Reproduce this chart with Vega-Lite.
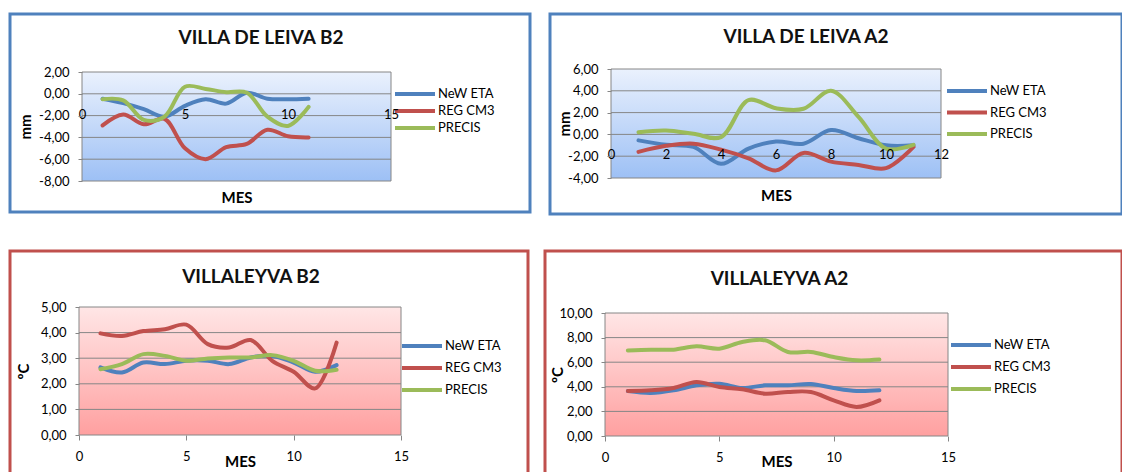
{
  "$schema": "https://vega.github.io/schema/vega-lite/v6.json",
  "padding": {"left": 8, "top": 12, "right": 0, "bottom": 0},
  "background": "white",
  "config": {
    "font": "Lato",
    "axis": {"labelFont": "Lato", "labelFontSize": 13, "labelColor": "#000", "titleFont": "Lato", "titleFontSize": 15, "titleFontWeight": "bold", "titleColor": "#000", "labelFlush": false, "labelOverlap": false, "grid": false, "domain": false, "tickColor": "#868686", "zindex": 1},
    "legend": {"orient": "none", "title": null, "symbolType": "stroke", "symbolStrokeWidth": 4, "symbolSize": 1600, "labelFont": "Lato", "labelFontSize": 13, "labelColor": "#000", "labelOffset": 1, "padding": 0, "clipHeight": 16},
    "title": {"font": "Lato", "fontSize": 19, "fontWeight": "bold", "color": "#111", "anchor": "middle", "frame": "group"}
  },
  "datasets": {
    "p1": [
      {"mes": 1, "serie": "NeW ETA", "valor": -0.45}, {"mes": 2, "serie": "NeW ETA", "valor": -0.85}, {"mes": 3, "serie": "NeW ETA", "valor": -1.4}, {"mes": 4, "serie": "NeW ETA", "valor": -2.1}, {"mes": 5, "serie": "NeW ETA", "valor": -1.1}, {"mes": 6, "serie": "NeW ETA", "valor": -0.5}, {"mes": 7, "serie": "NeW ETA", "valor": -0.9}, {"mes": 8, "serie": "NeW ETA", "valor": 0.1}, {"mes": 9, "serie": "NeW ETA", "valor": -0.45}, {"mes": 10, "serie": "NeW ETA", "valor": -0.5}, {"mes": 11, "serie": "NeW ETA", "valor": -0.45},
      {"mes": 1, "serie": "REG CM3", "valor": -2.9}, {"mes": 2, "serie": "REG CM3", "valor": -1.9}, {"mes": 3, "serie": "REG CM3", "valor": -2.8}, {"mes": 4, "serie": "REG CM3", "valor": -2.3}, {"mes": 5, "serie": "REG CM3", "valor": -5.0}, {"mes": 6, "serie": "REG CM3", "valor": -6.0}, {"mes": 7, "serie": "REG CM3", "valor": -4.9}, {"mes": 8, "serie": "REG CM3", "valor": -4.6}, {"mes": 9, "serie": "REG CM3", "valor": -3.3}, {"mes": 10, "serie": "REG CM3", "valor": -3.9}, {"mes": 11, "serie": "REG CM3", "valor": -4.0},
      {"mes": 1, "serie": "PRECIS", "valor": -0.5}, {"mes": 2, "serie": "PRECIS", "valor": -0.6}, {"mes": 3, "serie": "PRECIS", "valor": -2.4}, {"mes": 4, "serie": "PRECIS", "valor": -2.1}, {"mes": 5, "serie": "PRECIS", "valor": 0.65}, {"mes": 6, "serie": "PRECIS", "valor": 0.45}, {"mes": 7, "serie": "PRECIS", "valor": 0.15}, {"mes": 8, "serie": "PRECIS", "valor": 0.1}, {"mes": 9, "serie": "PRECIS", "valor": -2.1}, {"mes": 10, "serie": "PRECIS", "valor": -2.95}, {"mes": 11, "serie": "PRECIS", "valor": -1.2}
    ],
    "p2": [
      {"mes": 1, "serie": "NeW ETA", "valor": -0.55}, {"mes": 2, "serie": "NeW ETA", "valor": -0.95}, {"mes": 3, "serie": "NeW ETA", "valor": -1.15}, {"mes": 4, "serie": "NeW ETA", "valor": -2.7}, {"mes": 5, "serie": "NeW ETA", "valor": -1.3}, {"mes": 6, "serie": "NeW ETA", "valor": -0.65}, {"mes": 7, "serie": "NeW ETA", "valor": -0.85}, {"mes": 8, "serie": "NeW ETA", "valor": 0.4}, {"mes": 9, "serie": "NeW ETA", "valor": -0.35}, {"mes": 10, "serie": "NeW ETA", "valor": -1.0}, {"mes": 11, "serie": "NeW ETA", "valor": -1.0},
      {"mes": 1, "serie": "REG CM3", "valor": -1.6}, {"mes": 2, "serie": "REG CM3", "valor": -1.05}, {"mes": 3, "serie": "REG CM3", "valor": -0.85}, {"mes": 4, "serie": "REG CM3", "valor": -1.4}, {"mes": 5, "serie": "REG CM3", "valor": -2.2}, {"mes": 6, "serie": "REG CM3", "valor": -3.3}, {"mes": 7, "serie": "REG CM3", "valor": -1.7}, {"mes": 8, "serie": "REG CM3", "valor": -2.5}, {"mes": 9, "serie": "REG CM3", "valor": -2.8}, {"mes": 10, "serie": "REG CM3", "valor": -3.1}, {"mes": 11, "serie": "REG CM3", "valor": -1.15},
      {"mes": 1, "serie": "PRECIS", "valor": 0.2}, {"mes": 2, "serie": "PRECIS", "valor": 0.35}, {"mes": 3, "serie": "PRECIS", "valor": 0.05}, {"mes": 4, "serie": "PRECIS", "valor": -0.25}, {"mes": 5, "serie": "PRECIS", "valor": 3.15}, {"mes": 6, "serie": "PRECIS", "valor": 2.4}, {"mes": 7, "serie": "PRECIS", "valor": 2.35}, {"mes": 8, "serie": "PRECIS", "valor": 4.0}, {"mes": 9, "serie": "PRECIS", "valor": 1.6}, {"mes": 10, "serie": "PRECIS", "valor": -1.3}, {"mes": 11, "serie": "PRECIS", "valor": -0.95}
    ],
    "p3": [
      {"mes": 1, "serie": "NeW ETA", "valor": 2.64}, {"mes": 2, "serie": "NeW ETA", "valor": 2.44}, {"mes": 3, "serie": "NeW ETA", "valor": 2.83}, {"mes": 4, "serie": "NeW ETA", "valor": 2.77}, {"mes": 5, "serie": "NeW ETA", "valor": 2.9}, {"mes": 6, "serie": "NeW ETA", "valor": 2.9}, {"mes": 7, "serie": "NeW ETA", "valor": 2.77}, {"mes": 8, "serie": "NeW ETA", "valor": 3.03}, {"mes": 9, "serie": "NeW ETA", "valor": 3.09}, {"mes": 10, "serie": "NeW ETA", "valor": 2.83}, {"mes": 11, "serie": "NeW ETA", "valor": 2.47}, {"mes": 12, "serie": "NeW ETA", "valor": 2.73},
      {"mes": 1, "serie": "REG CM3", "valor": 3.97}, {"mes": 2, "serie": "REG CM3", "valor": 3.87}, {"mes": 3, "serie": "REG CM3", "valor": 4.06}, {"mes": 4, "serie": "REG CM3", "valor": 4.13}, {"mes": 5, "serie": "REG CM3", "valor": 4.31}, {"mes": 6, "serie": "REG CM3", "valor": 3.55}, {"mes": 7, "serie": "REG CM3", "valor": 3.42}, {"mes": 8, "serie": "REG CM3", "valor": 3.71}, {"mes": 9, "serie": "REG CM3", "valor": 2.9}, {"mes": 10, "serie": "REG CM3", "valor": 2.47}, {"mes": 11, "serie": "REG CM3", "valor": 1.82}, {"mes": 12, "serie": "REG CM3", "valor": 3.61},
      {"mes": 1, "serie": "PRECIS", "valor": 2.57}, {"mes": 2, "serie": "PRECIS", "valor": 2.77}, {"mes": 3, "serie": "PRECIS", "valor": 3.16}, {"mes": 4, "serie": "PRECIS", "valor": 3.09}, {"mes": 5, "serie": "PRECIS", "valor": 2.9}, {"mes": 6, "serie": "PRECIS", "valor": 2.99}, {"mes": 7, "serie": "PRECIS", "valor": 3.03}, {"mes": 8, "serie": "PRECIS", "valor": 3.03}, {"mes": 9, "serie": "PRECIS", "valor": 3.12}, {"mes": 10, "serie": "PRECIS", "valor": 2.9}, {"mes": 11, "serie": "PRECIS", "valor": 2.51}, {"mes": 12, "serie": "PRECIS", "valor": 2.55}
    ],
    "p4": [
      {"mes": 1, "serie": "NeW ETA", "valor": 3.66}, {"mes": 2, "serie": "NeW ETA", "valor": 3.5}, {"mes": 3, "serie": "NeW ETA", "valor": 3.71}, {"mes": 4, "serie": "NeW ETA", "valor": 4.12}, {"mes": 5, "serie": "NeW ETA", "valor": 4.25}, {"mes": 6, "serie": "NeW ETA", "valor": 3.9}, {"mes": 7, "serie": "NeW ETA", "valor": 4.12}, {"mes": 8, "serie": "NeW ETA", "valor": 4.12}, {"mes": 9, "serie": "NeW ETA", "valor": 4.23}, {"mes": 10, "serie": "NeW ETA", "valor": 3.9}, {"mes": 11, "serie": "NeW ETA", "valor": 3.66}, {"mes": 12, "serie": "NeW ETA", "valor": 3.71},
      {"mes": 1, "serie": "REG CM3", "valor": 3.66}, {"mes": 2, "serie": "REG CM3", "valor": 3.71}, {"mes": 3, "serie": "REG CM3", "valor": 3.9}, {"mes": 4, "serie": "REG CM3", "valor": 4.39}, {"mes": 5, "serie": "REG CM3", "valor": 3.98}, {"mes": 6, "serie": "REG CM3", "valor": 3.8}, {"mes": 7, "serie": "REG CM3", "valor": 3.44}, {"mes": 8, "serie": "REG CM3", "valor": 3.58}, {"mes": 9, "serie": "REG CM3", "valor": 3.58}, {"mes": 10, "serie": "REG CM3", "valor": 2.9}, {"mes": 11, "serie": "REG CM3", "valor": 2.36}, {"mes": 12, "serie": "REG CM3", "valor": 2.9},
      {"mes": 1, "serie": "PRECIS", "valor": 6.96}, {"mes": 2, "serie": "PRECIS", "valor": 7.02}, {"mes": 3, "serie": "PRECIS", "valor": 7.02}, {"mes": 4, "serie": "PRECIS", "valor": 7.29}, {"mes": 5, "serie": "PRECIS", "valor": 7.1}, {"mes": 6, "serie": "PRECIS", "valor": 7.64}, {"mes": 7, "serie": "PRECIS", "valor": 7.78}, {"mes": 8, "serie": "PRECIS", "valor": 6.83}, {"mes": 9, "serie": "PRECIS", "valor": 6.83}, {"mes": 10, "serie": "PRECIS", "valor": 6.42}, {"mes": 11, "serie": "PRECIS", "valor": 6.15}, {"mes": 12, "serie": "PRECIS", "valor": 6.21}
    ]
  },
  "spacing": 33,
  "resolve": {"scale": {"color": "independent"}, "legend": {"color": "independent"}},
  "vconcat": [
    {
      "bounds": "flush",
      "spacing": 20,
      "resolve": {"scale": {"color": "independent"}, "legend": {"color": "independent"}},
      "hconcat": [
        {
          "width": 520, "height": 198,
          "view": {"stroke": "#4F81BD", "strokeWidth": 3, "fill": "white"},
          "title": {"text": "VILLA DE LEIVA B2", "offset": -34, "dx": -9},
          "layer": [
            {
              "data": {"values": [{}]},
              "mark": {"type": "rect", "stroke": "#868686", "strokeWidth": 1, "fill": {"gradient": "linear", "x1": 0, "y1": 0, "x2": 0, "y2": 1, "stops": [{"offset": 0, "color": "#EAF1FD"}, {"offset": 1, "color": "#9DC0F5"}]}},
              "encoding": {"x": {"datum": 0, "type": "quantitative"}, "x2": {"datum": 15}, "y": {"datum": -8, "type": "quantitative"}, "y2": {"datum": 2}}
            },
            {
              "data": {"values": [{"v": -6}, {"v": -4}, {"v": -2}, {"v": 0}]},
              "mark": {"type": "rule", "color": "#868686", "strokeWidth": 1},
              "encoding": {"y": {"field": "v", "type": "quantitative"}, "x": {"datum": 0, "type": "quantitative"}, "x2": {"datum": 15}}
            },
            {
              "data": {"name": "p1"},
              "mark": {"type": "line", "interpolate": "catmull-rom", "strokeWidth": 4, "strokeCap": "round"},
              "encoding": {
                "x": {"field": "mes", "type": "quantitative", "scale": {"domain": [0, 15], "range": [72, 381], "nice": false, "zero": false},
                  "axis": {"orient": "bottom", "offset": -118, "zindex": 1, "tickCount": 20, "format": "d", "labelOverlap": false, "values": [0, 5, 10, 15], "ticks": false, "labelPadding": 14, "title": "MES", "titleY": 103, "titleBaseline": "middle"}},
                "y": {"field": "valor", "type": "quantitative", "scale": {"domain": [-8, 2], "range": [167, 58], "nice": false, "zero": false},
                  "axis": {"orient": "left", "offset": -72, "zindex": 1, "tickCount": 20, "labelOverlap": false, "values": [-8, -6, -4, -2, 0, 2], "tickSize": 4, "labelPadding": 9, "labelExpr": "(datum.value < 0 ? '-' : '') + replace(format(abs(datum.value), '.2f'), '.', ',')", "title": "mm", "titleX": -57, "titleBaseline": "middle"}},
                "color": {"field": "serie", "type": "nominal", "scale": {"domain": ["NeW ETA", "REG CM3", "PRECIS"], "range": ["#4F81BD", "#C0504D", "#9BBB59"]}, "legend": {"legendX": 383, "legendY": 72, "rowPadding": 1}}
              }
            }
          ]
        },
        {
          "width": 572, "height": 200,
          "view": {"stroke": "#4F81BD", "strokeWidth": 3, "fill": "white"},
          "title": {"text": "VILLA DE LEIVA A2", "offset": -33, "dx": -30},
          "layer": [
            {
              "data": {"values": [{}]},
              "mark": {"type": "rect", "stroke": "#868686", "strokeWidth": 1, "fill": {"gradient": "linear", "x1": 0, "y1": 0, "x2": 0, "y2": 1, "stops": [{"offset": 0, "color": "#EAF1FD"}, {"offset": 1, "color": "#9DC0F5"}]}},
              "encoding": {"x": {"datum": 0, "type": "quantitative"}, "x2": {"datum": 12}, "y": {"datum": -4, "type": "quantitative"}, "y2": {"datum": 6}}
            },
            {
              "data": {"values": [{"v": -2}, {"v": 0}, {"v": 2}, {"v": 4}]},
              "mark": {"type": "rule", "color": "#868686", "strokeWidth": 1},
              "encoding": {"y": {"field": "v", "type": "quantitative"}, "x": {"datum": 0, "type": "quantitative"}, "x2": {"datum": 12}}
            },
            {
              "data": {"name": "p2"},
              "mark": {"type": "line", "interpolate": "catmull-rom", "strokeWidth": 4, "strokeCap": "round"},
              "encoding": {
                "x": {"field": "mes", "type": "quantitative", "scale": {"domain": [0, 12], "range": [61, 391], "nice": false, "zero": false},
                  "axis": {"orient": "bottom", "offset": -80, "zindex": 1, "tickCount": 20, "format": "d", "labelOverlap": false, "values": [0, 2, 4, 6, 8, 10, 12], "ticks": false, "labelPadding": 14, "title": "MES", "titleY": 61, "titleBaseline": "middle"}},
                "y": {"field": "valor", "type": "quantitative", "scale": {"domain": [-4, 6], "range": [164, 55], "nice": false, "zero": false},
                  "axis": {"orient": "left", "offset": -61, "zindex": 1, "tickCount": 20, "labelOverlap": false, "values": [-4, -2, 0, 2, 4, 6], "tickSize": 4, "labelPadding": 9, "labelExpr": "(datum.value < 0 ? '-' : '') + replace(format(abs(datum.value), '.2f'), '.', ',')", "title": "mm", "titleX": -47, "titleBaseline": "middle"}},
                "color": {"field": "serie", "type": "nominal", "scale": {"domain": ["NeW ETA", "REG CM3", "PRECIS"], "range": ["#4F81BD", "#C0504D", "#9BBB59"]}, "legend": {"legendX": 395, "legendY": 69, "rowPadding": 5.5}}
              }
            }
          ]
        }
      ]
    },
    {
      "bounds": "flush",
      "spacing": 17,
      "resolve": {"scale": {"color": "independent"}, "legend": {"color": "independent"}},
      "hconcat": [
        {
          "width": 518, "height": 232,
          "view": {"stroke": "#C0504D", "strokeWidth": 3, "fill": "white"},
          "title": {"text": "VILLALEYVA  B2", "offset": -36, "dx": -18},
          "layer": [
            {
              "data": {"values": [{}]},
              "mark": {"type": "rect", "stroke": "#868686", "strokeWidth": 1, "fill": {"gradient": "linear", "x1": 0, "y1": 0, "x2": 0, "y2": 1, "stops": [{"offset": 0, "color": "#FFE6E6"}, {"offset": 1, "color": "#FFA0A0"}]}},
              "encoding": {"x": {"datum": 0, "type": "quantitative"}, "x2": {"datum": 15}, "y": {"datum": 0, "type": "quantitative"}, "y2": {"datum": 5}}
            },
            {
              "data": {"values": [{"v": 1}, {"v": 2}, {"v": 3}, {"v": 4}]},
              "mark": {"type": "rule", "color": "#868686", "strokeWidth": 1},
              "encoding": {"y": {"field": "v", "type": "quantitative"}, "x": {"datum": 0, "type": "quantitative"}, "x2": {"datum": 15}}
            },
            {
              "data": {"name": "p3"},
              "mark": {"type": "line", "interpolate": "catmull-rom", "strokeWidth": 4, "strokeCap": "round"},
              "encoding": {
                "x": {"field": "mes", "type": "quantitative", "scale": {"domain": [0, 15], "range": [69, 391], "nice": false, "zero": false},
                  "axis": {"orient": "bottom", "offset": -48, "zindex": 1, "tickCount": 20, "format": "d", "labelOverlap": false, "values": [0, 5, 10, 15], "tickSize": 5, "labelPadding": 10, "title": "MES", "titleY": 26, "titleBaseline": "middle"}},
                "y": {"field": "valor", "type": "quantitative", "scale": {"domain": [0, 5], "range": [184, 56], "nice": false, "zero": false},
                  "axis": {"orient": "left", "offset": -69, "zindex": 1, "tickCount": 20, "labelOverlap": false, "values": [0, 1, 2, 3, 4, 5], "tickSize": 4, "labelPadding": 9, "labelExpr": "replace(format(datum.value, '.2f'), '.', ',')", "title": "ºC", "titleX": -56, "titleBaseline": "middle"}},
                "color": {"field": "serie", "type": "nominal", "scale": {"domain": ["NeW ETA", "REG CM3", "PRECIS"], "range": ["#4F81BD", "#C0504D", "#9BBB59"]}, "legend": {"legendX": 390, "legendY": 87, "rowPadding": 6}}
              }
            }
          ]
        },
        {
          "width": 577, "height": 232,
          "view": {"stroke": "#C0504D", "strokeWidth": 3, "fill": "white"},
          "title": {"text": "VILLALEYVA  A2", "offset": -38, "dx": -54},
          "layer": [
            {
              "data": {"values": [{}]},
              "mark": {"type": "rect", "stroke": "#868686", "strokeWidth": 1, "fill": {"gradient": "linear", "x1": 0, "y1": 0, "x2": 0, "y2": 1, "stops": [{"offset": 0, "color": "#FFE6E6"}, {"offset": 1, "color": "#FFA0A0"}]}},
              "encoding": {"x": {"datum": 0, "type": "quantitative"}, "x2": {"datum": 15}, "y": {"datum": 0, "type": "quantitative"}, "y2": {"datum": 10}}
            },
            {
              "data": {"values": [{"v": 2}, {"v": 4}, {"v": 6}, {"v": 8}]},
              "mark": {"type": "rule", "color": "#868686", "strokeWidth": 1},
              "encoding": {"y": {"field": "v", "type": "quantitative"}, "x": {"datum": 0, "type": "quantitative"}, "x2": {"datum": 15}}
            },
            {
              "data": {"name": "p4"},
              "mark": {"type": "line", "interpolate": "catmull-rom", "strokeWidth": 4, "strokeCap": "round"},
              "encoding": {
                "x": {"field": "mes", "type": "quantitative", "scale": {"domain": [0, 15], "range": [60, 403], "nice": false, "zero": false},
                  "axis": {"orient": "bottom", "offset": -47, "zindex": 1, "tickCount": 20, "format": "d", "labelOverlap": false, "values": [0, 5, 10, 15], "tickSize": 5, "labelPadding": 10, "title": "MES", "titleY": 25, "titleBaseline": "middle"}},
                "y": {"field": "valor", "type": "quantitative", "scale": {"domain": [0, 10], "range": [185, 62], "nice": false, "zero": false},
                  "axis": {"orient": "left", "offset": -60, "zindex": 1, "tickCount": 20, "labelOverlap": false, "values": [0, 2, 4, 6, 8, 10], "tickSize": 4, "labelPadding": 9, "labelExpr": "replace(format(datum.value, '.2f'), '.', ',')", "title": "ºC", "titleX": -48, "titleBaseline": "middle"}},
                "color": {"field": "serie", "type": "nominal", "scale": {"domain": ["NeW ETA", "REG CM3", "PRECIS"], "range": ["#4F81BD", "#C0504D", "#9BBB59"]}, "legend": {"legendX": 404, "legendY": 86, "rowPadding": 6}}
              }
            }
          ]
        }
      ]
    }
  ]
}
